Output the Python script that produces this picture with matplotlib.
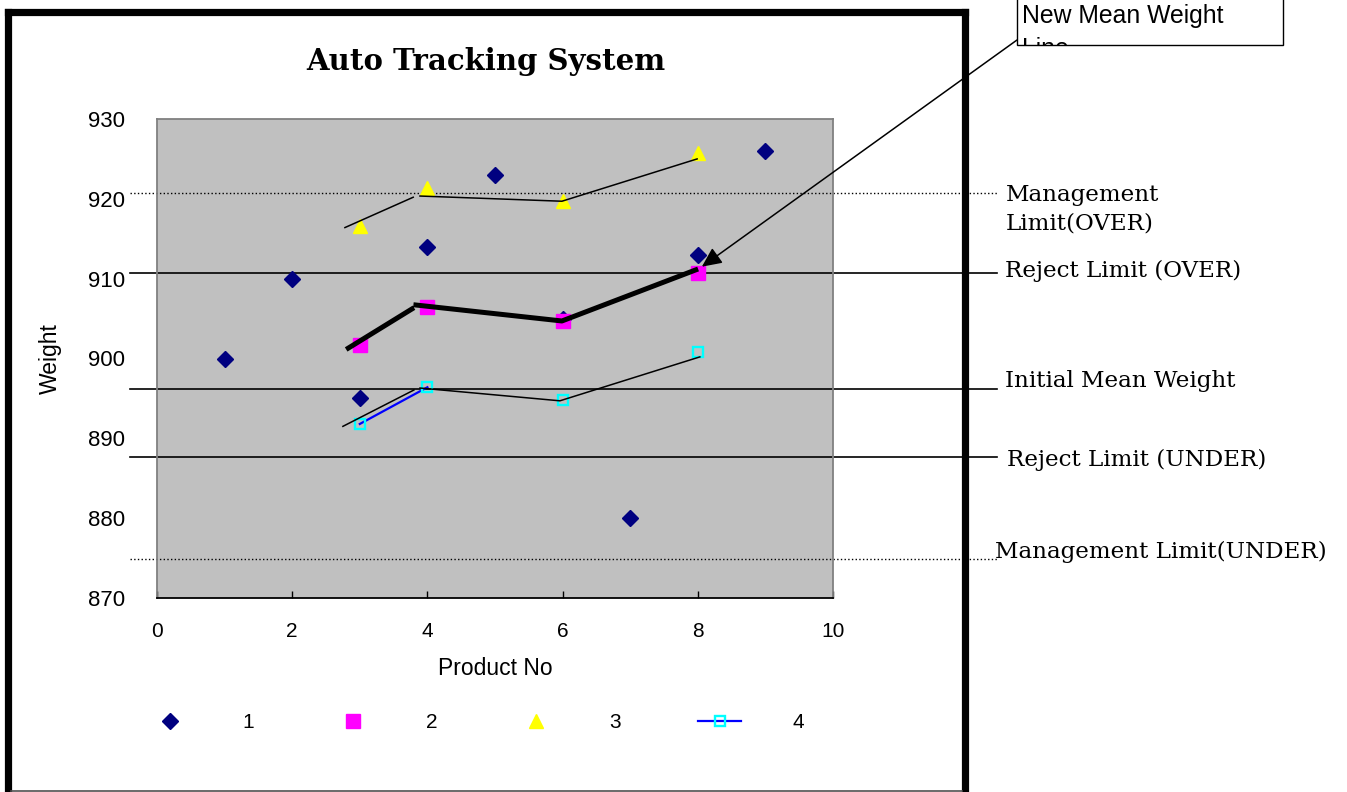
import numpy as np
import matplotlib
matplotlib.use("Agg")
import matplotlib.pyplot as plt
import matplotlib.transforms as mtransforms
from matplotlib.patches import Rectangle
from matplotlib.lines import Line2D

# series
x1 = [1, 2, 3, 4, 5, 6, 7, 8, 9]
y1 = [900, 910, 895, 914, 923, 905, 880, 913, 926]
x2 = [3, 4, 6, 8]
y2 = [901.7, 906.5, 904.7, 910.7]
x3 = [3, 4, 6, 8]
y3 = [916.6, 921.4, 919.7, 925.7]
x4 = [3, 4, 6, 8]
y4 = [891.8, 896.4, 894.8, 900.8]

# hand drawn trend lines (nan = break)
nan = np.nan
upper_x = [2.78, 3.79, nan, 3.89, 5.99, 7.99]
upper_y = [916.4, 920.2, nan, 920.35, 919.7, 925.0]
mean_x = [2.83, 3.77, nan, 3.83, 5.99, 7.97]
mean_y = [901.3, 906.2, nan, 906.7, 904.7, 911.1]
lower_x = [2.75, 3.80, nan, 3.89, 5.96, 8.03]
lower_y = [891.5, 896.05, nan, 896.3, 894.7, 900.2]

# reference limits
limit_names = ["Management\nLimit(OVER)", "Reject Limit (OVER)", "Initial Mean Weight",
               "Reject Limit (UNDER)", "Management Limit(UNDER)"]
limit_values = [920.7, 910.7, 896.2, 887.7, 874.9]
limit_styles = [":", "-", "-", "-", ":"]

xticks = [0, 2, 4, 6, 8, 10]
yticks = [870, 880, 890, 900, 910, 920, 930]

sans = "Liberation Sans"
serif = "DejaVu Serif"

fig = plt.figure(figsize=(13.47, 7.92), dpi=100)
ax = fig.add_axes([157 / 1347, 1 - 598 / 792, 676 / 1347, 479 / 792])
ax.set_facecolor("#C0C0C0")
ax.set_xlim(0, 10)
ax.set_ylim(870, 930)

for name in ["top", "left", "right"]:
    ax.spines[name].set_color("#808080")
    ax.spines[name].set_linewidth(1.3)
ax.spines["bottom"].set_color("black")
ax.spines["bottom"].set_linewidth(1.3)

ax.set_xticks(xticks)
ax.set_yticks(yticks)
ax.tick_params(axis="x", direction="in", length=5, width=1, pad=17.5, labelsize=15)
ax.tick_params(axis="y", length=0, pad=23, labelsize=16)
for lab in ax.get_xticklabels() + ax.get_yticklabels():
    lab.set_fontfamily(sans)
ax.set_xlabel("Product No", fontsize=16.5, fontfamily=sans, labelpad=11)
ax.set_ylabel("Weight", fontsize=16.5, fontfamily=sans, labelpad=19)

# limit lines running out past the plot, with labels on the right
for name, val, ls in zip(limit_names, limit_values, limit_styles):
    ax.axhline(val, xmin=-0.04, xmax=1.243, color="black", lw=1.0 if ls == ":" else 1.2,
               ls=ls, clip_on=False, zorder=1.5)
trans = mtransforms.blended_transform_factory(ax.transAxes, ax.transData)
label_x = [1.255, 1.255, 1.255, 1.258, 1.24]
label_dy = [-11.5, 1.5, 5.5, -2, 5]
for name, val, lx, dy in zip(limit_names, limit_values, label_x, label_dy):
    ax.annotate(name, xy=(lx, val), xycoords=trans, xytext=(0, dy), textcoords="offset points",
                va="center", ha="left", fontsize=16.6, fontfamily=serif,
                annotation_clip=False, linespacing=1.4)

ax.plot(x1, y1, ls="none", marker="D", ms=8.5, color="#000080", label="1", zorder=3)
ax.plot(x2, y2, ls="none", marker="s", ms=9.5, color="#FF00FF", label="2", zorder=3)
ax.plot(x3, y3, ls="none", marker="^", ms=10, color="#FFFF00", label="3", zorder=3)
ax.plot(x4[:2], y4[:2], color="#0000FF", lw=1.6, marker="s", ms=7.5, mfc="none",
        mec="#00FFFF", mew=1.7, label="4", zorder=3)
ax.plot(x4[2:], y4[2:], ls="none", marker="s", ms=7.5, mfc="none", mec="#00FFFF",
        mew=1.7, zorder=3)

ax.plot(upper_x, upper_y, color="black", lw=1.1, zorder=4)
ax.plot(mean_x, mean_y, color="black", lw=3.6, zorder=4)
ax.plot(lower_x, lower_y, color="black", lw=1.1, zorder=4)

ax.legend(loc="center", bbox_to_anchor=(0.472, -0.260), ncol=4, frameon=False,
          prop={"family": sans, "size": 15}, handlelength=2.07, handletextpad=2.45,
          columnspacing=3.72, numpoints=1)

fig.text(486 / 1347, 1 - 62 / 792, "Auto Tracking System", ha="center", va="center",
         fontsize=21, fontweight="bold", fontfamily=serif)

# callout box with arrow
box = Rectangle((1017 / 1347, 1 - 45 / 792), 266 / 1347, 60 / 792, transform=fig.transFigure,
                facecolor="white", edgecolor="black", lw=1.0)
fig.patches.append(box)
fig.text(1022 / 1347, 1 - 4 / 792, "New Mean Weight\nLine", ha="left", va="top", fontsize=17.8,
         fontfamily=sans, linespacing=1.45, clip_path=box, clip_on=True)
ax.annotate("", xy=(8.06, 911.5), xycoords="data", xytext=(1017 / 1347, 1 - 40 / 792),
            textcoords="figure fraction", annotation_clip=False,
            arrowprops=dict(arrowstyle="-|>,head_length=0.6,head_width=0.28", color="black",
                            lw=1.1, mutation_scale=20, shrinkA=0, shrinkB=0))

# chart frame
for xs, ys in [([7.5, 7.5], [792, 12]), ([7.5, 965], [12, 12]), ([965, 965], [12, 792])]:
    fig.add_artist(Line2D([x / 1347 for x in xs], [1 - y / 792 for y in ys],
                          transform=fig.transFigure, color="black", lw=5.2,
                          solid_capstyle="projecting"))
fig.add_artist(Line2D([11 / 1347, 962 / 1347], [1 - 791 / 792] * 2, transform=fig.transFigure,
                      color="#505050", lw=1.2))

fig.savefig("out.png", dpi=100)
